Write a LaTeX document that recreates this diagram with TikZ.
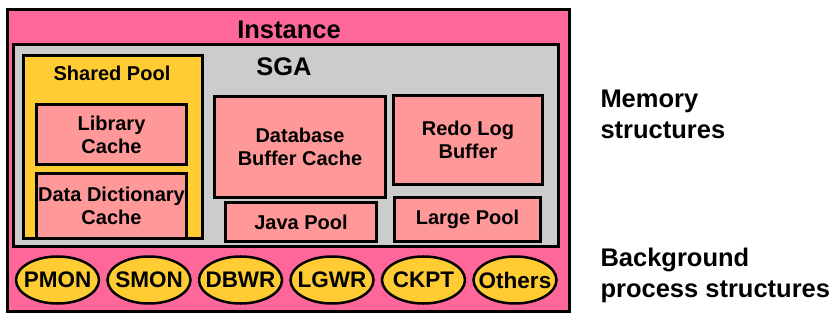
\documentclass[tikz,border=0pt]{standalone}
\usepackage{fontspec}
\setmainfont{Liberation Sans}
\usepackage{xcolor}
\usetikzlibrary{shapes.geometric}

\definecolor{instpink}{RGB}{255,102,153}
\definecolor{sgagray}{RGB}{204,204,204}
\definecolor{poolyellow}{RGB}{255,204,51}
\definecolor{bufpink}{RGB}{255,153,153}

\begin{document}
\begin{tikzpicture}[x=1pt, y=-1pt, line width=3pt,
    region/.style={draw=black, rectangle, inner sep=0pt},
    membox/.style={region, fill=bufpink, align=center, font=\bfseries\fontsize{20}{23}\selectfont},
    proc/.style={draw=black, fill=poolyellow, ellipse, line width=2.5pt, inner xsep=-9pt, inner ysep=0pt,
                 minimum width=83pt, minimum height=47pt, font=\bfseries\fontsize{22.5}{24}\selectfont},
    title/.style={anchor=base, inner sep=0pt, font=\bfseries\fontsize{25.5}{30}\selectfont},
    side/.style={anchor=north west, inner sep=0pt, align=left, font=\bfseries\fontsize{25.5}{31}\selectfont}]

    \useasboundingbox (0,0) rectangle (836,326);

    % --- INSTANCE ---
    \node[region, fill=instpink, minimum width=562pt, minimum height=302pt] (inst) at (288.5,160.5) {};
    \node[title] (instlabel) at (289,39) {Instance};

    % --- SGA ---
    \node[region, fill=sgagray, minimum width=545pt, minimum height=202pt] (sga) at (286,145.5) {};
    \node[title] (sgalabel) at (284,76) {SGA};

    % Shared pool with its two caches
    \node[region, fill=poolyellow, minimum width=179pt, minimum height=183pt] (shared) at (113,147) {};
    \node[title, font=\bfseries\fontsize{20}{23}\selectfont] (sharedlabel) at (112,81) {Shared Pool};
    \node[membox, minimum width=150pt, minimum height=60pt] (libcache) at (111.5,134.5) {Library\\Cache};
    \node[membox, minimum width=150pt, minimum height=65pt] (dictcache) at (111.5,206) {Data Dictionary\\Cache};

    % Buffers and pools
    \node[membox, minimum width=171pt, minimum height=101pt] (dbcache) at (300,147) {Database\\Buffer Cache};
    \node[membox, minimum width=151pt, minimum height=39pt] (javapool) at (301,222) {Java Pool};
    \node[membox, minimum width=149pt, minimum height=89pt] (redobuf) at (468,140) {Redo Log\\Buffer};
    \node[membox, minimum width=146pt, minimum height=44pt] (largepool) at (467.5,219.5) {Large Pool};

    % --- BACKGROUND PROCESSES ---
    \foreach \name [count=\i from 0] in {PMON,SMON,DBWR,LGWR,CKPT,Others}
        \node[proc] (\name) at ({57.5+91.5*\i},280) {\name};

    % --- SIDE LABELS ---
    \node[side] (memlabel) at (599,88) {Memory\\structures};
    \node[side] (bglabel) at (599,247) {Background\\process structures};

\end{tikzpicture}
\end{document}
